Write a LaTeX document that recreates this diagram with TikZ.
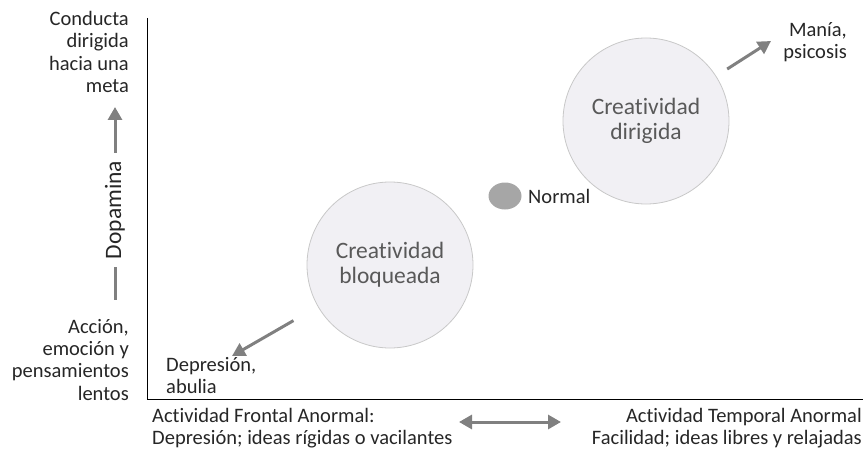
\documentclass[tikz,border=0pt]{standalone}
\usepackage{fontspec}
\setmainfont{Carlito}[Ligatures=NoCommon]
\usetikzlibrary{arrows.meta,shapes.geometric}
\definecolor{txt}{HTML}{262626}
\definecolor{circtxt}{HTML}{595959}
\definecolor{circfill}{HTML}{F1F0F4}
\definecolor{circline}{HTML}{C8C8C8}
\definecolor{arr}{HTML}{808080}
\definecolor{dot}{HTML}{A6A6A6}
\begin{document}
\begin{tikzpicture}[x=1pt,y=-1pt,
  lbl/.style={text=txt,font=\fontsize{20.5}{22.3}\selectfont,inner sep=0pt},
  bubble/.style={circle,draw=circline,line width=0.8pt,fill=circfill,minimum size=166pt,
    text=circtxt,align=center,font=\fontsize{23.5}{25}\selectfont},
  grayarrow/.style={draw=arr,line width=3pt,-{Triangle[length=13pt,width=14pt]}},
  axisline/.style={draw=black,line width=0.9pt}]
\useasboundingbox (0,0) rectangle (863,452);

% axes
\coordinate (origin) at (147,399);
\coordinate (ytop) at (147,18);
\coordinate (xend) at (863,399);
\draw[axisline] (ytop) -- (origin) -- (xend);

% vertical axis labels
\node[lbl,align=right,anchor=north east] (goal) at (129,11)
  {Conducta\\dirigida\\hacia una\\meta};
\node[lbl,align=right,anchor=north east] (slow) at (129,319)
  {Acción,\\emoción y\\pensamientos\\lentos};
\node[lbl,rotate=90,font=\fontsize{23.5}{25}\selectfont] (dopa) at (115,210) {Dopamina};
\coordinate (upTip) at (115,107);
\coordinate (lowEnd) at (115,300);
\draw[grayarrow] (dopa.east) ++(0,-8) -- (upTip);
\draw[draw=arr,line width=3pt] (dopa.west) ++(0,8) -- (lowEnd);

% bubbles
\node[bubble] (bloq) at (390,265) {Creatividad\\bloqueada};
\node[bubble] (dirig) at (646,121) {Creatividad\\dirigida};
\node[ellipse,fill=dot,minimum width=33pt,minimum height=27pt,inner sep=0pt] (normal) at (505,196) {};
\node[lbl,anchor=west] (normaltxt) at (528,196) {Normal};

% extremes
\node[lbl,align=left,anchor=north west] (dep) at (166,357) {Depresión,\\abulia};
\node[lbl,align=right,anchor=north east] (mania) at (847,22) {Manía,\\psicosis};
\coordinate (depTip) at (232,356);
\coordinate (maniaTip) at (771,41);
\draw[grayarrow,shorten <=28pt] (bloq) -- (depTip);
\draw[grayarrow,shorten <=13pt] (dirig) -- (maniaTip);

% horizontal axis labels
\node[lbl,align=left,anchor=north west] (frontal) at (152,408)
  {Actividad Frontal Anormal:\\Depresión; ideas rígidas o vacilantes};
\node[lbl,align=right,anchor=north east] (temporal) at (862,408)
  {Actividad Temporal Anormal\\Facilidad; ideas libres y relajadas};
\coordinate (hLeft) at (459,422);
\coordinate (hRight) at (561,422);
\draw[draw=arr,line width=3pt,{Triangle[length=13pt,width=14pt]}-{Triangle[length=13pt,width=14pt]}] (hLeft) -- (hRight);
\end{tikzpicture}
\end{document}
